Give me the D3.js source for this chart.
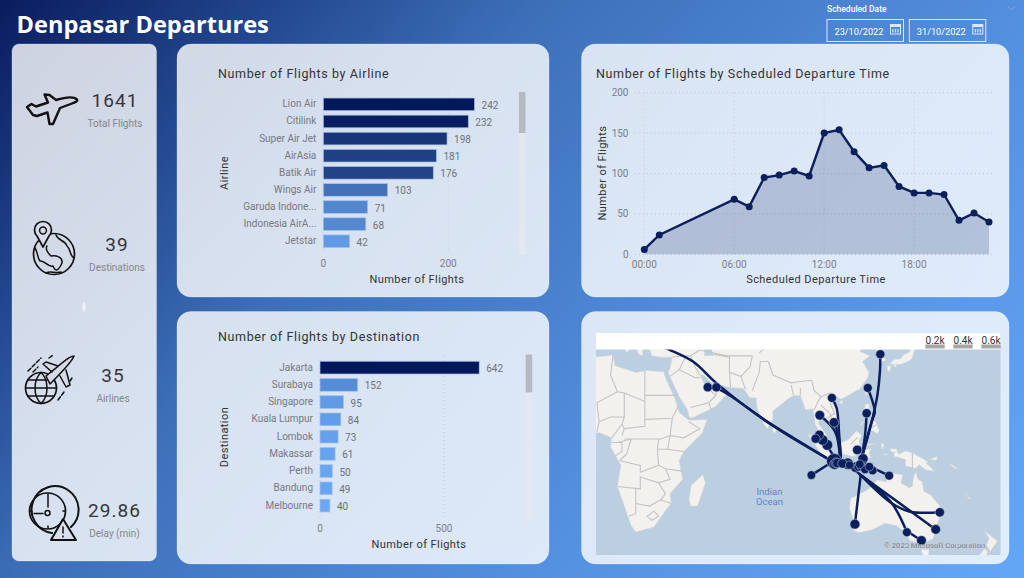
<!DOCTYPE html>
<html>
<head>
<meta charset="utf-8">
<title>Denpasar Departures</title>
<script src="https://cdn.jsdelivr.net/npm/d3@7"></script>
<style>
  html, body { margin:0; padding:0; background:#2f5fa8; overflow:hidden; }
  svg { display:block; font-family:'Roboto', sans-serif; }
  .cardTitle { font-size:12.5px; fill:#333; letter-spacing:0.62px; }
  .axisTitle { font-size:11px; fill:#333; letter-spacing:0.42px; }
  .tick { font-size:10px; fill:#7d7f85; }
  .cat { font-size:10px; fill:#77797f; }
  .val { font-size:10px; fill:#6f7177; }
  .kpi { font-size:19px; fill:#35363a; text-anchor:middle; letter-spacing:1.1px; }
  .kpiLabel { font-size:10px; fill:#85868a; text-anchor:middle; }
  .icon { fill:none; stroke:#111; stroke-width:1.5; stroke-linejoin:round; stroke-linecap:round; }
</style>
</head>
<body>
<svg id="chart" width="1024" height="578"></svg>
<script>
// --- data ---
const airlines = ["Lion Air","Citilink","Super Air Jet","AirAsia","Batik Air","Wings Air","Garuda Indone...","Indonesia AirA...","Jetstar"];
const airlineFlights = [242,232,198,181,176,103,71,68,42];
const destinations = ["Jakarta","Surabaya","Singapore","Kuala Lumpur","Lombok","Makassar","Perth","Bandung","Melbourne"];
const destinationFlights = [642,152,95,84,73,61,50,49,40];
const hours = [0,1,6,7,8,9,10,11,12,13,14,15,16,17,18,19,20,21,22,23];
const hourFlights = [6,24,68,59,95,98,103,97,150,154,127,107,110,84,76,76,74,42,51,40];
const hourTicks = [0,6,12,18];
const countTicks = [0,50,100,150,200];

const kpiValues = ["1641","39","35","29.86"];
const kpiLabels = ["Total Flights","Destinations","Airlines","Delay (min)"];
const dateRange = ["23/10/2022","31/10/2022"];
const bubbleLegend = ["0.2k","0.4k","0.6k"];

// map stops: [lon, lat, flights]
const stops = [
  [126.98,37.56,18],[121.5,25.0,14],[121.0,14.6,22],[105.8,21.0,16],[100.5,13.75,38],[106.7,10.7,30],
  [51.5,25.3,20],[55.3,25.25,20],[100.3,5.3,28],[98.67,3.6,18],[101.7,3.1,84],[103.8,0.9,95],
  [116.9,-1.26,30],[119.4,-5.1,61],[115.86,-31.95,50],[151.2,-33.87,36],[153.0,-27.47,24],[144.96,-37.8,40],
  [138.6,-34.9,12],[96.83,-12.19,8],[130.84,-12.46,12],[106.8,-6.2,642],[107.6,-6.9,49],[107.0,-7.6,60],
  [108.2,-7.0,40],[110.4,-7.2,30],[112.7,-7.3,152],[113.6,-7.9,4],[116.1,-8.76,73],[117.4,-8.6,16],
  [118.7,-8.5,16],[119.9,-8.5,30],[120.3,-9.7,12],[121.7,-8.9,14],[122.2,-8.6,8],[123.6,-10.2,10],[118.0,-7.5,8]
];

// flow paths, waypoints as [lon, lat]
const flows = [
  [[126.98,37.56],[126.8,31.3],[125.7,22.1],[123.2,11],[118.8,-4.9]],
  [[121.5,25],[123.6,19.4],[124.6,15.3],[123.2,11],[118.8,-4.9]],
  [[121,14.6],[120.3,5.2],[118.8,-4.9]],
  [[105.8,21],[107.9,16.7],[109,5.2],[109.7,-4.9]],
  [[106.7,10.7],[108.6,5.2],[109.7,-4.9]],
  [[100.5,13.75],[107.2,6.7],[109.3,-4.9]],
  [[51.5,25.3],[56.9,24.2],[78.7,10.3],[105,-5.7]],
  [[26,42],[34.2,39.3],[45.2,34.9],[55.4,26.8],[77.3,11],[105,-5.7]],
  [[118.4,-12.2],[151.2,-33.87]],
  [[118.4,-12.2],[132,-23.9],[140,-27.2],[153,-27.47]],
  [[118.4,-12.2],[132,-23.9],[138.6,-34.9]],
  [[137.8,-34.1],[144.96,-37.8]],
  [[118.4,-12.2],[115.86,-31.95]],
  [[96.83,-12.19],[105,-7.1]],
  [[130.84,-12.46],[125.4,-10]],
  [[103.8,0.9],[106,-3],[109,-5.5]],
  [[105,-5.7],[110,-6],[118.4,-12.2]]
];

// rough coastlines
const land = [
  [[-6,35.8],[10,37.3],[11,33.5],[20,31],[25,31.7],[32.3,31.2],[32.6,29.9],[34,27],[37,21],[39,15],[43.2,11.6],[51.2,11.9],[49,6],[41,-2],[39,-6],[40.5,-14],[35,-20],[35.5,-24],[32.8,-27],[28,-33],[20,-34.8],[18,-32.5],[12,-17],[13.5,-8],[9,0],[9.5,4],[4,6.3],[-4,5],[-8,4.4],[-13,9],[-17,15],[-16,22],[-10,29.5]],
  [[34.9,29.5],[39,21.5],[42.7,16],[43.5,12.7],[45,12.8],[52,16],[55,17.5],[59.7,22.5],[56.5,24.5],[56.2,26.2],[54,24.2],[51.5,24.5],[51.3,26],[50,26.6],[48,30],[50,30],[53,27],[57,26],[61.5,25.2],[67,24.8],[70,21],[72.7,21],[73,17],[76,10],[77.5,8],[80,12],[80,15.5],[86.5,20.5],[89,22],[92,22],[94.3,16],[97.5,16.5],[98.5,10],[100.5,6],[103.5,1.4],[104,3],[103,6],[100,10],[100.5,13.5],[102.5,12],[105,9],[106.8,10.5],[109.2,12],[108.7,16],[105.7,19],[107.5,21.5],[110,20.5],[113.5,22.3],[118,24.7],[121.5,29],[122,31],[119.2,35],[122.5,37],[118,38.5],[121,41],[125,39.7],[126.5,37],[126.5,34.7],[129.2,35.3],[128,38.5],[127.5,40],[130,42.5],[135,44],[142,50],[140,55],[160,62],[180,66],[180,75],[3,75],[3,43],[9,44.5],[15,40],[16,38],[18,40],[12,44],[13,45.5],[19,41],[21.5,37.5],[23,37],[23,40],[26,39.5],[27,37],[30.5,36.5],[36,36.5],[35,32.5],[34.2,31.2]],
  [[49.3,-12],[50.5,-15.5],[47,-25],[44,-25],[43.3,-22],[44.3,-16.5]],
  [[80,9.7],[81.8,7.5],[80.6,6],[79.8,7.5]],
  [[95.3,5.6],[98,4.5],[103.5,-1],[106,-3],[105.8,-5.8],[104.5,-5.8],[101,-3],[98.5,1]],
  [[105.3,-6.8],[106.8,-5.9],[110.5,-6.5],[114.4,-7.7],[114.5,-8.7],[110,-8.1],[106,-7.4]],
  [[109,1.5],[111.5,2.5],[113.5,3.7],[116.5,7],[119,5],[117.7,3],[118,1],[116.5,-2],[116,-4],[114.5,-4],[110.5,-3],[109.2,0]],
  [[120,1.2],[125,1.6],[121,0.5],[120.3,-1],[123,-1],[122,-2.5],[123,-5],[121.5,-4.5],[120.5,-3],[120.5,-5.5],[119.5,-5.5],[119,-3],[119.8,0]],
  [[115,-8.2],[119,-8.3],[119,-9],[115,-8.8]],
  [[119.8,-8.4],[123,-8.2],[123,-8.8],[120,-8.9]],
  [[119.2,-9.5],[120.8,-9.9],[120.2,-10.2]],
  [[123.5,-10.3],[127,-8.4],[125,-9.4]],
  [[127.5,2],[128.5,1],[128,-1],[127.5,0]],
  [[127.8,-3.2],[130.8,-3.2],[129.5,-3.6]],
  [[131,-0.8],[134,-0.8],[135,-3.3],[138,-1.7],[141,-2.6],[145.5,-5],[147.8,-6.5],[147,-7],[150.8,-10.5],[147,-10],[144,-7.7],[142.5,-9.2],[138,-8.3],[138,-5.5],[133,-4],[132.8,-2.8],[134,-2.2],[132,-2.2]],
  [[148.5,-5.5],[152,-4.2],[151.5,-5.8]],
  [[120.5,18.5],[122.2,18.3],[122,16],[124,13],[121,13.7],[120,16]],
  [[122,11.5],[125,11],[125.5,9.5],[123,9.5]],
  [[122,7.5],[125.5,9.5],[126.5,7],[125.5,5.8],[124,7]],
  [[118,9.3],[119.5,11.2],[119.2,10]],
  [[120.2,23],[121.5,25.2],[121,22]],
  [[108.8,19.2],[110.5,20],[110.3,18.5]],
  [[131,34],[133,35.7],[136,36],[137,37.3],[140,38.5],[140.3,41],[141.5,41],[142,39],[140.8,36],[139,35],[136,34],[133,34]],
  [[130,33.5],[131.8,33.5],[131,31.2],[130.2,31.5]],
  [[132.5,34],[134.5,34],[133.5,33]],
  [[114,-22],[113.5,-26],[115.7,-32],[115,-34.3],[118,-35],[123.5,-34],[129,-31.6],[134,-32.5],[138,-35],[140,-38],[144,-38.5],[147,-38.2],[150,-37.3],[151.5,-33],[153.5,-28],[153,-25],[149,-20.5],[146,-19],[145.3,-15],[143.5,-14],[142.5,-10.8],[141.5,-13],[141,-17],[139.5,-17.5],[136,-15.5],[136.8,-12.2],[133,-11.5],[130.5,-12.3],[129.5,-15],[125.5,-14.3],[122,-18],[117,-20.6]],
  [[144.8,-40.8],[148.3,-40.9],[148,-43],[146,-43.5]],
  [[172.7,-34.5],[178.2,-38],[175,-41.5],[173.5,-39.5],[174.5,-37]],
  [[172.7,-40.5],[174,-41.7],[170.5,-46],[166.5,-46]],
  [[164,-20.2],[167,-22.3],[166,-22]],
  [[157,-7],[161,-9.5],[159,-9]]
];
const seas = [
  [[50,37],[54,37],[53,40],[50,40]]
];
// rough country borders
const borders = [
  [[9,30],[10,37]],[[9,30],[12,23.5],[15,23],[24,19.5],[24,31.5]],[[3,19],[12,23.5]],[[3,19],[4,11],[3,6.5]],
  [[15,23],[15,13],[9,13],[4,11]],[[15,13],[14,10],[9.5,4]],[[24,19.5],[24,9],[15,8],[14,10]],[[24,22],[37,22]],
  [[24,12],[36,12.5],[38.5,17.5]],[[36,12.5],[35,5],[41,4],[48,8],[43.2,11]],[[35,5],[34,-1],[41,-2]],
  [[14,5],[15,8]],[[15,3.5],[18,3.5],[31,3.5],[35,5]],[[30,3.5],[29.5,-1],[30,-8],[22,-11],[22,-8],[13,-6]],
  [[34,-1],[29.5,-1]],[[30,-8],[33,-9.5],[40.4,-10.5]],[[33,-9.5],[35,-14],[30,-15.5],[22,-13],[22,-18],[12,-17]],
  [[30,-15.5],[33,-20],[31,-22.5],[35.5,-24]],[[20,-18],[20,-28],[17,-29]],[[20,-24],[26,-25],[31,-22.5]],
  [[28,-27],[30,-29],[27,-30.5],[25,-29],[28,-27]],[[12,2],[18,3.5]],[[9.5,2],[14,2],[14,-2],[11,-4]],[[18,3.5],[16,-3],[13,-6]],
  [[36,36.5],[42,37],[39,32],[35,29.5]],[[42,37],[44,37],[46,33],[48,30]],[[39,32],[46,29],[48,29]],
  [[44,37],[48,39]],[[52,24.5],[55,22],[52,19],[44,17]],[[52,19],[53,16]],[[55,22],[56,24.5]],
  [[61.5,25.2],[61,31],[61,36.5],[54,37.5]],[[61,31],[66,29.5],[70,33],[71,37]],[[66,29.5],[68,24.5]],
  [[71,24],[74,31],[74.5,35],[78,35]],[[78,35],[80,30],[88,27],[92,27.5],[97,28]],[[88,26],[89,22]],[[92,25],[92,22]],
  [[97,28],[98,24],[101,21.5],[100,20],[98,16]],[[101,21.5],[105,23],[107.5,21.5]],[[101,18],[105,14.5],[106,11]],
  [[102.5,12],[107,14.5],[105,19]],[[100,6.5],[102,6]],[[74,38],[80,42],[87,49]],[[48,39],[60,37],[71,37]],
  [[114,1],[117,4.2]],[[141,-2.6],[141,-9.2]],[[125,-9.4],[125,-9]],[[124.5,40],[130,42.5]],[[126,38],[128,38.5]]
];

// --- helpers ---
const svg = d3.select("#chart");
const defs = svg.append("defs");

const bgGrad = defs.append("linearGradient").attr("id","bg")
  .attr("gradientUnits","userSpaceOnUse")
  .attr("x1",0).attr("y1",0).attr("x2",847).attr("y2",762);
bgGrad.append("stop").attr("offset","0%").attr("stop-color","#0a1c5e");
bgGrad.append("stop").attr("offset","18%").attr("stop-color","#22478e");
bgGrad.append("stop").attr("offset","35%").attr("stop-color","#3c6fb8");
bgGrad.append("stop").attr("offset","68%").attr("stop-color","#5490e0");
bgGrad.append("stop").attr("offset","100%").attr("stop-color","#64a6f6");

svg.append("rect").attr("width",1024).attr("height",578).attr("fill","url(#bg)");

function card(x, y, w, h, r) {
  svg.append("rect").attr("x",x).attr("y",y).attr("width",w).attr("height",h).attr("rx",r)
    .attr("fill","#fff").attr("fill-opacity",0.8)
    .attr("stroke","#fff").attr("stroke-opacity",0.25);
}

// header
svg.append("text").attr("x",16.5).attr("y",33)
  .style("font-family","'Open Sans', sans-serif").style("font-weight",700).style("font-size","23.6px")
  .attr("fill","#fff").text("Denpasar Departures");

svg.append("text").attr("x",827).attr("y",12)
  .style("font-size","8.5px").style("font-weight",500).attr("fill","#fff").text("Scheduled Date");

dateRange.forEach(function(d, i) {
  const x = 827 + i*82.3;
  const g = svg.append("g").attr("transform","translate("+x+",19.5)");
  g.append("rect").attr("width",76.5).attr("height",22).attr("fill","none").attr("stroke","#dbe7f8").attr("stroke-width",1);
  g.append("text").attr("x",7.5).attr("y",15).attr("fill","#fff").style("font-size","9.2px").text(d);
  // calendar icon
  g.append("rect").attr("x",63.5).attr("y",5).attr("width",10).attr("height",9.5).attr("fill","none").attr("stroke","#dbe7f8");
  g.append("rect").attr("x",63.5).attr("y",5).attr("width",10).attr("height",2.5).attr("fill","#dbe7f8");
  g.append("path").attr("d","M66,9.5V13M68.5,9.5V13M71,9.5V13").attr("stroke","#dbe7f8").attr("stroke-width",1.2);
});
svg.append("path").attr("d","M1008,6.5L1011.5,9.5L1015,6.5").attr("fill","none").attr("stroke","#7fa6dd");

// cards
card(12,44,144.5,517,7);
card(177,44,372,253,14);
card(177,311.5,372,252.5,14);
card(581.5,44,427.5,253,14);
card(581.5,311.5,427.5,252.5,14);
svg.append("ellipse").attr("cx",84).attr("cy",307).attr("rx",1.5).attr("ry",5).attr("fill","#fff").attr("fill-opacity",0.6);

// KPI texts
const kpiX = [115,117,113,114.5];
const kpiY = [107,250.5,382,517];
kpiValues.forEach(function(v, i) {
  svg.append("text").attr("class","kpi").attr("x",kpiX[i]).attr("y",kpiY[i]).text(v);
  svg.append("text").attr("class","kpiLabel").attr("x",kpiX[i]).attr("y",kpiY[i]+20).text(kpiLabels[i]);
});

// KPI icons
const icons = svg.append("g").attr("class","icon");
icons.append("path").attr("d","M77,99.5C74,96.5 66,97 56,100L49.5,95 44.5,94.5 48,102.5 36,106.5 31.5,104 27,107 33,115 37,116 47.5,112.5 49.5,124 53,124 60,108 72,103.5C76,102 78,101 77,99.5Z").style("stroke-width",2.4);
icons.append("circle").attr("cx",54).attr("cy",254).attr("r",20.5).style("stroke-width",1.7);
icons.append("path").attr("d","M35,248C38,252 37,258 40,261C45,260 48,268 53,266C56,274 60,268 62,263C63,257 56,255 51,256C47,252 45,249 47,246M56,235C58,241 65,240 67,246C71,249 69,255 74,258M46,273C51,270 55,274 61,272");
icons.append("path").attr("d","M43,247L37,236A8.5,8.5 0 1 1 49,236Z").style("fill","#d5dbe8").style("stroke-width",1.7);
icons.append("circle").attr("cx",43).attr("cy",230.5).attr("r",3.4);
icons.append("circle").attr("cx",41).attr("cy",388).attr("r",15.5).style("stroke-width",1.7);
icons.append("path").attr("d","M26,388H56M28,380H54M28,396H54M41,372.5C33,380 33,396 41,403.5M41,372.5C49,380 49,396 41,403.5");
icons.append("path").attr("d","M74,356C70,356 66,360 46,376L50,384C60,374 72,362 74,356ZM58,366L46,362 43,364 52,372M66,370L70,385 66,387 60,376").style("fill","#d5dbe8");
icons.append("path").attr("d","M28,371L41,358M33,372L38,367M49,358L53,355M64,392L58,400M72,378L70,381").attr("stroke-dasharray","4 2");
icons.append("path").attr("d","M71,527A23.5,23.5 0 1 0 52,533").style("stroke-width",2);
icons.append("circle").attr("cx",47.5).attr("cy",511).attr("r",18).style("stroke-width",1.7);
icons.append("path").attr("d","M48,497V507M43,513.5H34M48,494V497M32,511H30M65,511H63M48,528V526");
icons.append("circle").attr("cx",47.5).attr("cy",513).attr("r",2.5);
icons.append("path").attr("d","M63,519L76,540H51Z").style("fill","#d8e0ed").style("stroke-width",2);
icons.append("path").attr("d","M63,527V533M63,536V537");

// horizontal bar panel
function barPanel(opts) {
  const g = svg.append("g");
  const x = d3.scaleLinear().domain([0,opts.tick]).range([opts.x0,opts.x1]);
  const y = d3.scaleBand().domain(opts.cats).range(opts.yRange).paddingInner(0.26).paddingOuter(0.13);
  const color = d3.scaleLinear().domain(opts.colorDomain).range(["#6aa8f3","#03185a"]);

  g.append("text").attr("class","cardTitle").attr("x",218).attr("y",opts.titleY).text(opts.title);

  const ticks = g.append("g").selectAll("g").data([0,opts.tick]).join("g");
  ticks.append("line").attr("x1",x).attr("x2",x).attr("y1",opts.yRange[0]-3).attr("y2",opts.yRange[1]+3)
    .attr("stroke","#c3cad6").attr("stroke-dasharray","1 3");
  ticks.append("text").attr("class","tick").attr("x",x).attr("y",opts.tickY).attr("text-anchor","middle").text(d=>d);

  g.selectAll("rect.bar").data(opts.values).join("rect").attr("class","bar")
    .attr("x",x(0)).attr("y",(d,i)=>y(opts.cats[i])).attr("width",d=>x(d)-x(0)).attr("height",y.bandwidth())
    .attr("fill",d=>color(d)).attr("stroke","#a9c2e8").attr("stroke-width",0.7);

  g.selectAll("text.cat").data(opts.cats).join("text").attr("class","cat")
    .attr("x",opts.x0-7).attr("y",d=>y(d)+y.bandwidth()/2+3).attr("text-anchor","end").text(d=>d);

  g.selectAll("text.val").data(opts.values).join("text").attr("class","val")
    .attr("x",d=>x(d)+7).attr("y",(d,i)=>y(opts.cats[i])+y.bandwidth()/2+4.5).text(d=>d);

  g.append("text").attr("class","axisTitle").attr("x",opts.axisX).attr("y",opts.axisY).attr("text-anchor","middle").text("Number of Flights");
  g.append("text").attr("class","axisTitle")
    .attr("transform","translate(228,"+opts.catY+") rotate(-90)").attr("text-anchor","middle").text(opts.catTitle);

  // scrollbar
  g.append("rect").attr("x",opts.sbX).attr("y",opts.sbY[0]).attr("width",6.5).attr("height",opts.sbY[2]-opts.sbY[0]).attr("fill","#e6e9ee").attr("fill-opacity",0.75);
  g.append("rect").attr("x",opts.sbX).attr("y",opts.sbY[0]).attr("width",6.5).attr("height",opts.sbY[1]-opts.sbY[0]).attr("fill","#b6b9c0");
}

barPanel({
  title:"Number of Flights by Airline", titleY:78, cats:airlines, values:airlineFlights, tick:200,
  x0:323.3, x1:448.3, yRange:[95.8,249.8], colorDomain:[20,242], tickY:267, axisX:417, axisY:282.5,
  catTitle:"Airline", catY:173, sbX:519, sbY:[92,133,255]
});
barPanel({
  title:"Number of Flights by Destination", titleY:341, cats:destinations, values:destinationFlights, tick:500,
  x0:320, x1:444, yRange:[359,514.2], colorDomain:[40,642], tickY:532, axisX:419, axisY:547.5,
  catTitle:"Destination", catY:437, sbX:525.7, sbY:[354.5,392.5,520]
});

// departure time panel
const xTime = d3.scaleLinear().domain([0,23]).range([644.3,989]);
const yCount = d3.scaleLinear().domain([0,200]).range([254.3,92.7]);
const timeG = svg.append("g");

timeG.append("text").attr("class","cardTitle").attr("x",596).attr("y",78).text("Number of Flights by Scheduled Departure Time");
timeG.selectAll("line.gy").data(countTicks).join("line").attr("class","gy")
  .attr("x1",635).attr("x2",994).attr("y1",yCount).attr("y2",yCount)
  .attr("stroke","#c3cad6").attr("stroke-dasharray","1 3");
timeG.selectAll("line.gx").data(hourTicks).join("line").attr("class","gx")
  .attr("x1",xTime).attr("x2",xTime).attr("y1",92.7).attr("y2",254.3)
  .attr("stroke","#c3cad6").attr("stroke-dasharray","1 3");
timeG.selectAll("text.ty").data(countTicks).join("text").attr("class","tick ty")
  .attr("x",628.5).attr("y",d=>yCount(d)+3.5).attr("text-anchor","end").text(d=>d);
timeG.selectAll("text.tx").data(hourTicks).join("text").attr("class","tick tx")
  .attr("x",xTime).attr("y",268).attr("text-anchor","middle").text(d=>d3.format("02")(d)+":00");

const hourPoints = hours.map((h,i)=>[h,hourFlights[i]]);
timeG.append("path").datum(hourPoints)
  .attr("d",d3.area().x(d=>xTime(d[0])).y0(yCount(0)).y1(d=>yCount(d[1])))
  .attr("fill","#0b1f5c").attr("fill-opacity",0.2);
timeG.append("path").datum(hourPoints)
  .attr("d",d3.line().x(d=>xTime(d[0])).y(d=>yCount(d[1])))
  .attr("fill","none").attr("stroke","#0b1f5c").attr("stroke-width",2.4);
timeG.selectAll("circle").data(hourPoints).join("circle")
  .attr("cx",d=>xTime(d[0])).attr("cy",d=>yCount(d[1])).attr("r",3.5).attr("fill","#0b1f5c");
timeG.append("text").attr("class","axisTitle").attr("x",816).attr("y",283).attr("text-anchor","middle").text("Scheduled Departure Time");
timeG.append("text").attr("class","axisTitle").attr("transform","translate(606,173) rotate(-90)").attr("text-anchor","middle").text("Number of Flights");

// map panel
const projection = d3.geoMercator().scale(131).translate([590,447]);
defs.append("clipPath").attr("id","mapClip").append("rect").attr("x",596).attr("y",333).attr("width",404.5).attr("height",222);
const mapG = svg.append("g").attr("clip-path","url(#mapClip)");
const ring = d3.line().x(d=>projection(d)[0]).y(d=>projection(d)[1]);

mapG.append("rect").attr("x",596).attr("y",333).attr("width",405).attr("height",222).attr("fill","#bccfe1");
mapG.selectAll("path.land").data(land).join("path").attr("class","land")
  .attr("d",d=>ring(d)+"Z").attr("fill","#f3f1ee").attr("stroke","#d5d6d6").attr("stroke-width",0.5);
mapG.selectAll("path.sea").data(seas).join("path").attr("class","sea")
  .attr("d",d=>ring(d)+"Z").attr("fill","#bccfe1");
mapG.selectAll("path.border").data(borders).join("path").attr("class","border")
  .attr("d",d=>ring(d)).attr("fill","none").attr("stroke","#c4c4c4").attr("stroke-width",1.1);

const flowLine = d3.line().curve(d3.curveCatmullRom.alpha(0.5)).x(d=>projection(d)[0]).y(d=>projection(d)[1]);
mapG.selectAll("path.flow").data(flows).join("path").attr("class","flow")
  .attr("d",flowLine).attr("fill","none").attr("stroke","#0b1f5c").attr("stroke-width",2.5).attr("stroke-linecap","round");

const bubbleR = d3.scaleSqrt().domain([0,642]).range([3.9,7.6]);
mapG.selectAll("circle.stop").data(stops.slice().sort((a,b)=>d3.descending(a[2],b[2]))).join("circle").attr("class","stop")
  .attr("cx",d=>projection(d)[0]).attr("cy",d=>projection(d)[1]).attr("r",d=>bubbleR(d[2]))
  .attr("fill","#0b1f5c").attr("stroke","#c6cfe0").attr("stroke-width",0.5);

mapG.append("text").attr("x",769.5).attr("y",494.5).attr("text-anchor","middle").attr("fill","#6384c4").style("font-size","9.5px").text("Indian");
mapG.append("text").attr("x",769.5).attr("y",505).attr("text-anchor","middle").attr("fill","#6384c4").style("font-size","9.5px").text("Ocean");
mapG.append("text").attr("x",884).attr("y",548).attr("fill","#3c3c3c").attr("stroke","#fff").attr("stroke-width",0.25).attr("stroke-opacity",0.7)
  .style("font-size","7.6px").text("\u00a9 2023 Microsoft Corporation");

// bubble legend strip
svg.append("rect").attr("x",596).attr("y",333).attr("width",404.5).attr("height",16.5).attr("fill","#fff");
bubbleLegend.forEach(function(t, i) {
  const cx = 935 + i*28;
  svg.append("rect").attr("x",cx-9.7).attr("y",344.5).attr("width",19.4).attr("height",4).attr("fill","#a6a6a6");
  svg.append("text").attr("x",cx).attr("y",344).attr("text-anchor","middle").attr("fill","#333").style("font-size","10px").text(t);
});
</script>
</body>
</html>
